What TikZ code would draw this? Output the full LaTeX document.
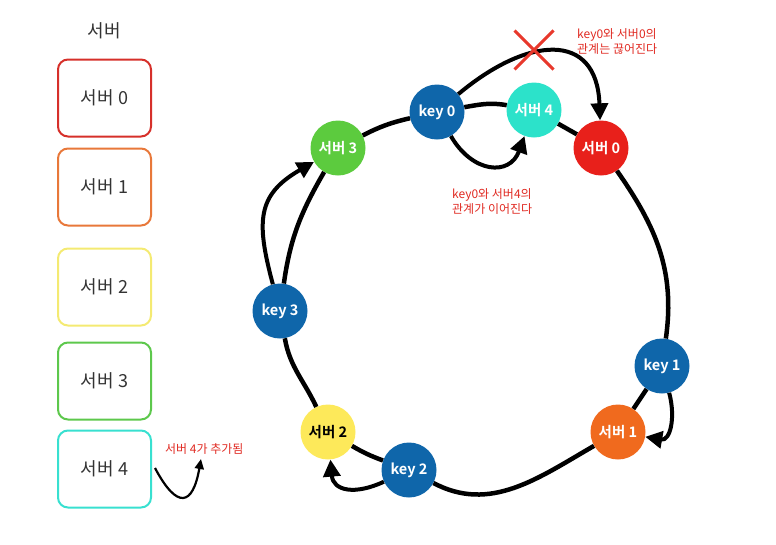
\documentclass[tikz,border=0pt]{standalone}
\usepackage{fontspec}
\setmainfont{Noto Sans CJK KR}[BoldFont={Noto Sans CJK KR Bold}]
\usetikzlibrary{arrows.meta,shapes.misc}
\definecolor{keyblue}{HTML}{0F66AA}
\definecolor{cred}{HTML}{E8201B}
\definecolor{cteal}{HTML}{2CE2CA}
\definecolor{cgreen}{HTML}{5CCB3E}
\definecolor{cyellow}{HTML}{FDE95A}
\definecolor{corange}{HTML}{F06A1E}
\definecolor{bred}{HTML}{D6302A}
\definecolor{borange}{HTML}{E8783A}
\definecolor{byellow}{HTML}{F4EA72}
\definecolor{bgreen}{HTML}{5DC84C}
\definecolor{bteal}{HTML}{38E0D0}
\definecolor{txtgray}{HTML}{333333}
\definecolor{annred}{HTML}{E02A22}
\definecolor{xred}{HTML}{E8382C}
\tikzset{
  ringnode/.style={circle, minimum size=55pt, inner sep=0pt, text=white, font=\bfseries\fontsize{14.5}{16}\selectfont},
  keynode/.style={ringnode, fill=keyblue},
  ring/.style={line width=4.5pt},
  arr/.style={line width=4pt, -{Triangle[length=17pt,width=17pt]}},
  legbox/.style={draw, rounded corners=10pt, line width=2pt, minimum width=93pt, minimum height=77pt, text=txtgray, font=\fontsize{18}{20}\selectfont},
  ann/.style={text=annred, font=\fontsize{12}{15}\selectfont, align=left, inner sep=0pt},
}
\begin{document}
\begin{tikzpicture}[x=1pt,y=-1pt]
\useasboundingbox (0,0) rectangle (776,544);
% legend
\node[text=txtgray, font=\fontsize{18}{20}\selectfont] (title) at (104,31) {서버};
\node[legbox, draw=bred] (b0) at (104.5,98) {서버 0};
\node[legbox, draw=borange] (b1) at (104.5,187) {서버 1};
\node[legbox, draw=byellow] (b2) at (104.5,287) {서버 2};
\node[legbox, draw=bgreen] (b3) at (104.5,381) {서버 3};
\node[legbox, draw=bteal] (b4) at (104.5,469) {서버 4};
\node[ann, anchor=west] (addtxt) at (165,449) {서버 4가 추가됨};
\coordinate (la) at (155,468);
\coordinate (lb) at (201,459);
\draw[line width=2.2pt, -{Triangle[length=10pt,width=9pt]}] (la) to[out=-62,in=-100,looseness=2.6] (lb);

% ring nodes
\node[keynode] (k0) at (437,112) {key 0};
\node[ringnode, fill=cteal] (s4) at (534,110) {서버 4};
\node[ringnode, fill=cred] (s0) at (601,148) {서버 0};
\node[ringnode, fill=cgreen] (s3) at (338,148) {서버 3};
\node[keynode] (k3) at (280,311) {key 3};
\node[ringnode, fill=cyellow, text=black] (s2) at (328,432) {서버 2};
\node[keynode] (k2) at (409,470) {key 2};
\node[ringnode, fill=corange] (s1) at (618,432) {서버 1};
\node[keynode] (k1) at (662,366) {key 1};

% ring segments
\draw[ring] (k0) to[out=10,in=170] (s4);
\draw[ring] (s4) -- (s0);
\draw[ring] (s0) to[out=-55,in=82] (k1);
\draw[ring] (k1) -- (s1);
\draw[ring] (s1) to[out=-150,in=-28] (k2);
\draw[ring] (k2) to[bend left=5] (s2);
\draw[ring] (s2) to[out=115,in=-80] (k3);
\draw[ring] (k3) to[out=82,in=-120] (s3);
\draw[ring] (s3) to[bend left=7] (k0);

% arrows
\draw[arr] (k0) to[out=40,in=92,looseness=1.6] (s0);
\node[cross out, draw=xred, line width=3pt, minimum size=36pt, inner sep=0pt] (xmark) at (534,50) {};
\draw[arr] (k0) to[out=-60,in=-110,looseness=1.5] (s4);
\draw[arr] (k3) to[out=105,in=210,looseness=1.3] (s3);
\draw[arr] (k2) to[out=205,in=-85,looseness=1.4] (s2);
\draw[arr] (k1) to[out=-75,in=-10,looseness=1.3] (s1);

% annotations
\node[ann, anchor=north west] (ann0) at (577,28) {key0와 서버0의\\관계는 끊어진다};
\node[ann, anchor=north west] (ann4) at (452,188) {key0와 서버4의\\관계가 이어진다};
\end{tikzpicture}
\end{document}
